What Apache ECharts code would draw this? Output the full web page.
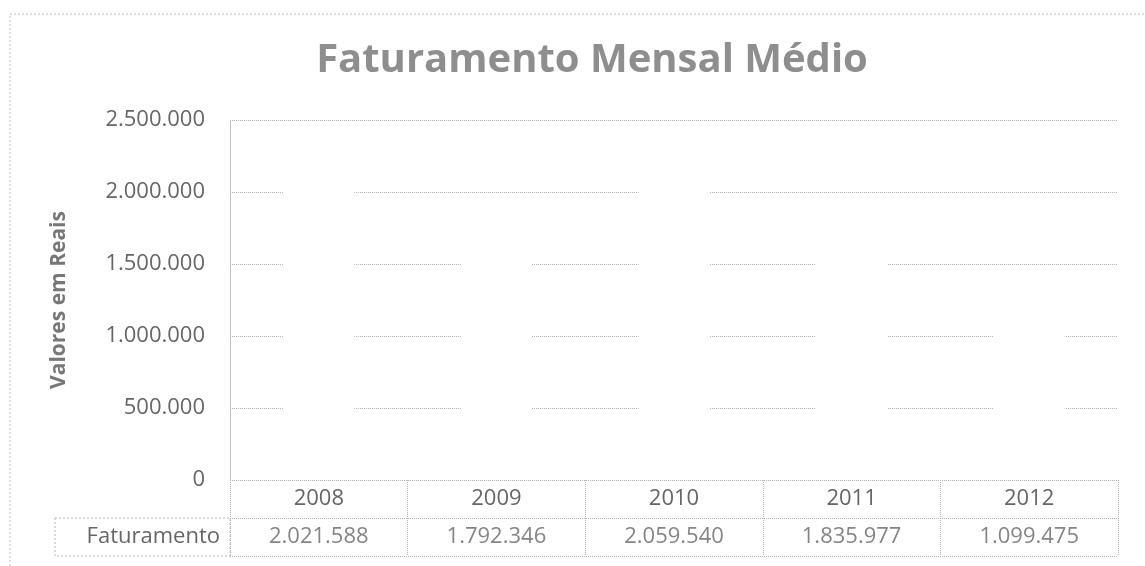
<!DOCTYPE html>
<html>
<head>
<meta charset="utf-8">
<script src="https://cdn.jsdelivr.net/npm/echarts@6/dist/echarts.min.js"></script>
<style>
  html, body { margin: 0; padding: 0; background: #fff; }
  #chart { width: 1145px; height: 566px; }
</style>
</head>
<body>
<div id="chart"></div>
<script>
var anos = ['2008', '2009', '2010', '2011', '2012'];
var faturamento = [2021588, 1792346, 2059540, 1835977, 1099475];
var yTicks = [0, 500000, 1000000, 1500000, 2000000, 2500000];
var serieNome = 'Faturamento';

function fmt(v) {
    return String(v).replace(/\B(?=(\d{3})+(?!\d))/g, '.');
}

var fonte = '"Open Sans", "Liberation Sans", sans-serif';
var cinzaTexto = '#666666';
var cinzaLinha = '#b5b5b5';

var chart = echarts.init(document.getElementById('chart'));
var option = {
    backgroundColor: '#fff',
    animation: false,
    title: {
        text: 'Faturamento Mensal Médio',
        left: 587,
        top: 36,
        textAlign: 'center',
        textStyle: { fontFamily: fonte, fontSize: 40, fontWeight: 'bold', color: '#8e8e8e' }
    },
    grid: [
        { left: 230, right: 27, top: 120, bottom: 86 },
        { left: 230, right: 27, top: 480, bottom: 10 }
    ],
    xAxis: [
        {
            type: 'category', gridIndex: 0, data: anos,
            axisLine: { show: false }, axisTick: { show: false },
            axisLabel: { margin: 8, fontFamily: fonte, fontSize: 22, color: cinzaTexto }
        },
        {
            type: 'category', gridIndex: 1, data: anos,
            axisLine: { show: false }, axisTick: { show: false }, axisLabel: { show: false },
            splitLine: { show: true, lineStyle: { color: cinzaLinha, type: 'dotted', width: 1 } }
        }
    ],
    yAxis: [
        {
            type: 'value', gridIndex: 0,
            min: yTicks[0], max: yTicks[yTicks.length - 1], interval: yTicks[1] - yTicks[0],
            name: 'Valores em Reais', nameLocation: 'middle', nameGap: 160,
            nameTextStyle: { fontFamily: fonte, fontSize: 21, fontWeight: 'bold', color: '#777777' },
            axisLine: { show: true, lineStyle: { color: cinzaLinha, type: 'dotted' } },
            axisTick: { show: false },
            axisLabel: { margin: 25, fontFamily: fonte, fontSize: 22, color: cinzaTexto, formatter: fmt },
            splitLine: { show: true, lineStyle: { color: cinzaLinha, type: 'dotted', width: 1 } }
        },
        {
            type: 'category', gridIndex: 1, data: ['', serieNome], inverse: true,
            axisLine: { show: false }, axisTick: { show: false },
            axisLabel: { margin: 10, fontFamily: fonte, fontSize: 22, color: cinzaTexto },
            splitLine: { show: true, lineStyle: { color: cinzaLinha, type: 'dotted', width: 1 } }
        }
    ],
    graphic: [
        {
            type: 'rect', silent: true,
            shape: { x: 10, y: 14, width: 1200, height: 600 },
            style: { fill: 'none', stroke: '#bdbdbd', lineWidth: 1, lineDash: [2, 2] }
        },
        {
            type: 'rect', silent: true,
            shape: { x: 55, y: 518, width: 175, height: 38 },
            style: { fill: 'none', stroke: cinzaLinha, lineWidth: 1, lineDash: [2, 2] }
        }
    ],
    series: [
        {
            name: serieNome, type: 'bar', xAxisIndex: 0, yAxisIndex: 0,
            data: faturamento, barWidth: '40%', z: 5,
            itemStyle: { color: '#ffffff' }
        },
        {
            name: serieNome + ' tabela', type: 'scatter', xAxisIndex: 1, yAxisIndex: 1,
            symbolSize: 0,
            data: anos.map(function (a, i) { return [a, serieNome, faturamento[i]]; }),
            label: {
                show: true, position: 'inside', fontFamily: fonte, fontSize: 22, color: cinzaTexto,
                formatter: function (p) { return fmt(p.value[2]); }
            }
        }
    ]
};
chart.setOption(option);
</script>
</body>
</html>
